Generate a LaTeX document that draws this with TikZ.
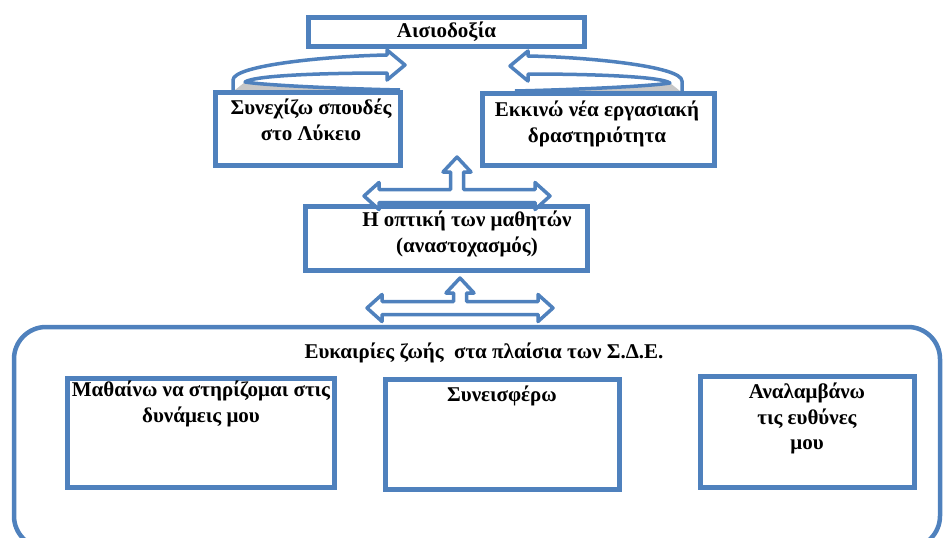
\documentclass[tikz,border=0pt]{standalone}
\usepackage{fontspec}
\setmainfont{Liberation Serif}
\usepackage{tikz}
\definecolor{sdeblue}{RGB}{79,129,189}
\tikzset{
	sdebox/.style = {rectangle, draw=sdeblue, line width=5pt, inner sep=0pt,
		fill=white},
	sdetext/.style = {align=center, inner sep=0pt,
		font=\fontsize{21}{25.5}\selectfont\bfseries},
	blockarrow/.style = {draw=sdeblue, line width=3.5pt, fill=white,
		line join=round},
	pics/triarrow/.style = {code={
		\draw[blockarrow] (-93,0) -- (-78,-13.5) -- (-78,-6.5) -- (-6.5,-6.5)
			-- (-6.5,15-#1) -- (-14,15-#1) -- (0,-#1) -- (14,15-#1) -- (6.5,15-#1)
			-- (6.5,-6.5) -- (78,-6.5) -- (78,-13.5) -- (93,0) -- (78,13.5)
			-- (78,6.5) -- (-78,6.5) -- (-78,13.5) -- cycle;
	}},
	pics/bendarrow/.style = {code={
		\fill[white] (0,0) -- (0,-10) .. controls (0,-25) and (97,-34) .. (154,-35)
			-- (154,-40) -- (172,-25) -- (154,-10) -- (154,-17)
			.. controls (97,-17) and (22,-15) .. (12,-8) -- cycle;
		\fill[black!22] (2,0) -- (12,-8) .. controls (30,-5) and (100,-1.5) .. (167,0) -- cycle;
		\draw[blockarrow, fill=none] (0,0) -- (0,-10)
			.. controls (0,-25) and (97,-34) .. (154,-35)
			-- (154,-40) -- (172,-25) -- (154,-10) -- (154,-17)
			.. controls (97,-17) and (22,-15) .. (12,-8)
			.. controls (30,-5) and (100,-1.5) .. (167,0);
	}}
}

\begin{document}
\begin{tikzpicture}[x=1pt, y=-1pt]
\useasboundingbox (0,0) rectangle (946,538);
\clip (0,0) rectangle (946,538);

% frame of the lower part
\draw[sdeblue, line width=4.5pt, rounded corners=32pt] (14,327) rectangle (940,548);

% curved arrows up to the top box
\coordinate (bendl) at (233,90);
\coordinate (bendr) at (682,91);
\pic at (bendl) {bendarrow};
\pic[xscale=-1] at (bendr) {bendarrow};

\node[sdebox, sdetext, minimum width=276, minimum height=29] (tops) at (446.5,32) {Αισιοδοξία};
\node[sdebox, minimum width=185, minimum height=73] (spoud) at (308,129) {};
\node[sdebox, minimum width=232, minimum height=72] (ergas) at (598.5,129.5) {};
\node[sdebox, minimum width=282, minimum height=64] (optiki) at (446.5,238.5) {};
\node[sdebox, minimum width=267, minimum height=109] (mathaino) at (201,433) {};
\node[sdebox, minimum width=234, minimum height=110] (synei) at (502.5,434.5) {};
\node[sdebox, minimum width=214, minimum height=111] (analam) at (807.5,432) {};

\node[sdetext, anchor=north] (spoudtxt) at (311,99) {Συνεχίζω σπουδές\\στο Λύκειο};
\node[sdetext, anchor=north] (ergastxt) at (597,101) {Εκκινώ νέα εργασιακή\\δραστηριότητα};
\node[sdetext, anchor=north] (optikitxt) at (467,211) {Η οπτική των μαθητών\\(αναστοχασμός)};
\node[sdetext, anchor=base] (eukairtxt) at (484,358) {Ευκαιρίες ζωής~ στα πλαίσια των Σ.Δ.Ε.};
\node[sdetext, anchor=north] (mathtxt) at (201,381) {Μαθαίνω να στηρίζομαι στις\\δυνάμεις μου};
\node[sdetext, anchor=base] (syneitxt) at (502,401) {Συνεισφέρω};
\node[sdetext, anchor=north] (analamtxt) at (807,383) {Αναλαμβάνω\\τις ευθύνες\\μου};

% arrows between the levels
\coordinate (triup) at (457,196);
\coordinate (trilow) at (460,308);
\pic at (triup) {triarrow=39};
\pic at (trilow) {triarrow=30};
\end{tikzpicture}
\end{document}
